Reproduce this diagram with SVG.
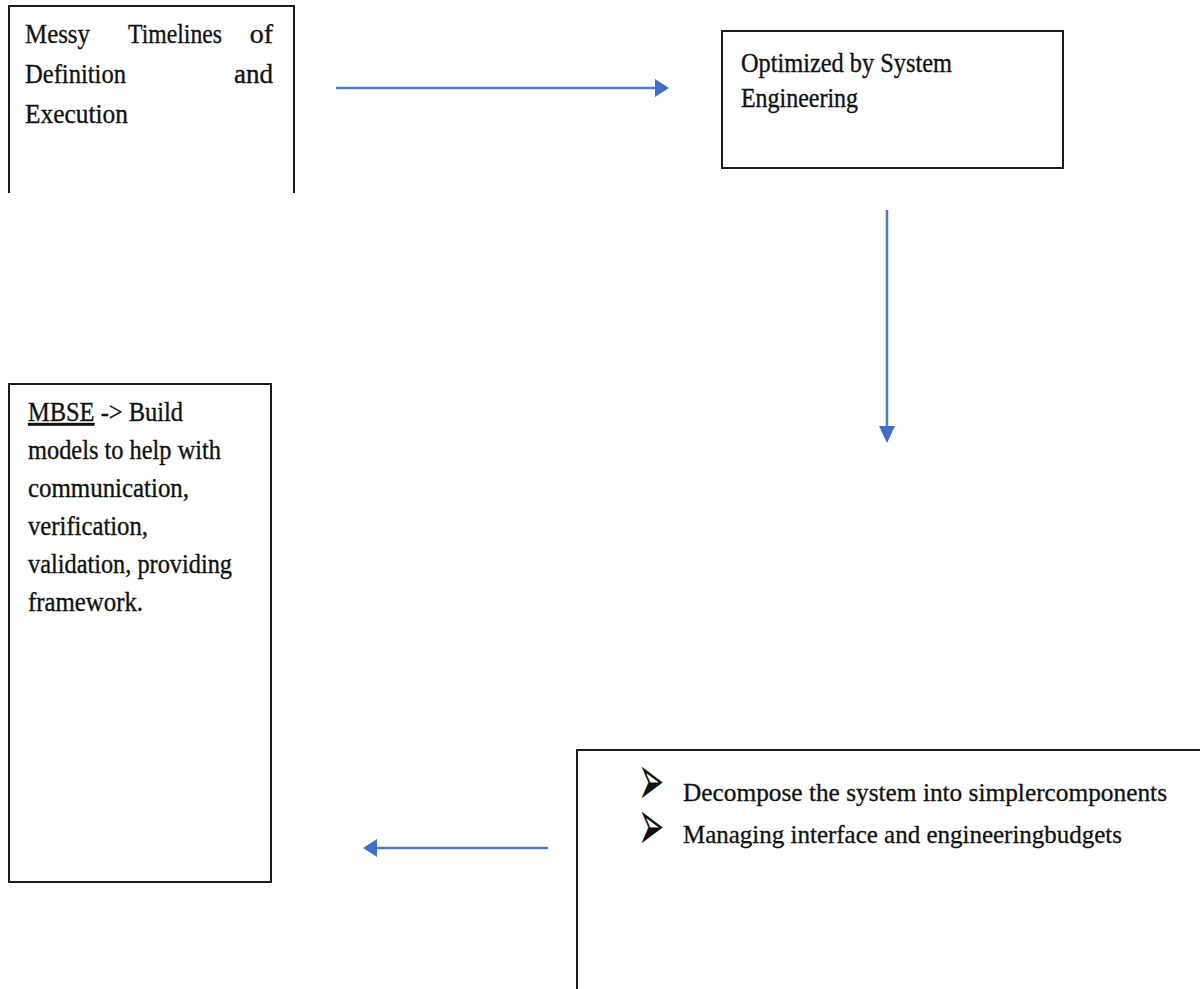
<svg xmlns="http://www.w3.org/2000/svg" width="1200" height="989" viewBox="0 0 1200 989">
  <defs>
    <style>
      .box { fill: #ffffff; stroke: #1c1c1c; stroke-width: 2; }
      .edge { fill: none; stroke: #1c1c1c; stroke-width: 2; }
      .lbl { font-family: "Liberation Serif", "Times New Roman", serif; font-size: 28px; fill: #111111; stroke: #111111; stroke-width: 0.35; }
      .lbl2 { font-family: "Liberation Serif", "Times New Roman", serif; font-size: 27px; fill: #111111; stroke: #111111; stroke-width: 0.35; }
      .lbl3 { font-family: "Liberation Serif", "Times New Roman", serif; font-size: 25px; fill: #111111; stroke: #111111; stroke-width: 0.3; }
      .bullet { font-family: "DejaVu Sans", sans-serif; font-size: 24px; fill: #111111; }
      .conn { fill: none; stroke: #4f79c9; stroke-width: 2.5; }
      .head { fill: #3f6cc4; }
    </style>
  </defs>
  <rect width="1200" height="989" fill="#ffffff"/>

  <!-- connectors -->
  <g id="connectors">
    <line class="conn" x1="336" y1="88" x2="656" y2="88"/>
    <polygon class="head" points="655,79 669,88 655,97"/>
    <line class="conn" x1="887" y1="210" x2="887" y2="428"/>
    <polygon class="head" points="879,426 895,426 887,443"/>
    <line class="conn" x1="548" y1="848" x2="376" y2="848"/>
    <polygon class="head" points="377,839 363,848 377,857"/>
  </g>

  <!-- open-bottomed box: messy timelines -->
  <g id="node-messy">
    <path class="edge" d="M9,193 V6 H294 V193"/>
    <text class="lbl" x="25" y="43" textLength="65" lengthAdjust="spacingAndGlyphs">Messy</text>
    <text class="lbl" x="128" y="43" textLength="94" lengthAdjust="spacingAndGlyphs">Timelines</text>
    <text class="lbl" x="273" y="43" text-anchor="end">of</text>
    <text class="lbl" x="25" y="83" textLength="101" lengthAdjust="spacingAndGlyphs">Definition</text>
    <text class="lbl" x="234" y="83" textLength="39" lengthAdjust="spacingAndGlyphs">and</text>
    <text class="lbl" x="25" y="123" textLength="103" lengthAdjust="spacingAndGlyphs">Execution</text>
  </g>

  <!-- systems engineering box -->
  <g id="node-optimized">
    <rect class="box" x="722" y="31" width="341" height="137"/>
    <text class="lbl2" x="741" y="72" textLength="211" lengthAdjust="spacingAndGlyphs">Optimized by System</text>
    <text class="lbl2" x="741" y="107" textLength="117" lengthAdjust="spacingAndGlyphs">Engineering</text>
  </g>

  <!-- MBSE box -->
  <g id="node-mbse">
    <rect class="box" x="9" y="384" width="262" height="498"/>
    <text class="lbl2" x="28" y="421" textLength="155" lengthAdjust="spacingAndGlyphs"><tspan text-decoration="underline">MBSE</tspan>  -&gt; Build</text>
    <text class="lbl2" x="28" y="459" textLength="193" lengthAdjust="spacingAndGlyphs">models to help with</text>
    <text class="lbl2" x="28" y="497" textLength="161" lengthAdjust="spacingAndGlyphs">communication,</text>
    <text class="lbl2" x="28" y="535" textLength="120" lengthAdjust="spacingAndGlyphs">verification,</text>
    <text class="lbl2" x="28" y="573" textLength="204" lengthAdjust="spacingAndGlyphs">validation, providing</text>
    <text class="lbl2" x="28" y="611" textLength="115" lengthAdjust="spacingAndGlyphs">framework.</text>
  </g>

  <!-- decomposition box (runs past the right and bottom edges) -->
  <g id="node-decompose">
    <path class="edge" d="M577,995 V750 H1210"/>
    <!-- both arrowhead bullets share one stretched text run -->
    <text class="bullet" transform="translate(638,0) scale(1.3,3)"><tspan x="0" y="268.3">➢</tspan><tspan x="0" y="283.3">➢</tspan></text>
    <text class="lbl3" x="683" y="801" textLength="484" lengthAdjust="spacingAndGlyphs">Decompose the system into simplercomponents</text>
    <text class="lbl3" x="683" y="843" textLength="439" lengthAdjust="spacingAndGlyphs">Managing interface and engineeringbudgets</text>
  </g>
</svg>
